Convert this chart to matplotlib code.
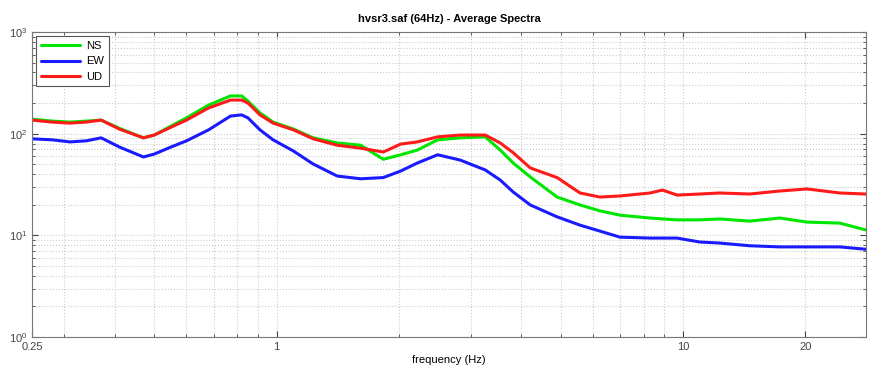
import numpy as np
import matplotlib
matplotlib.use('Agg')
import matplotlib.pyplot as plt
from matplotlib.ticker import FixedLocator, FixedFormatter, LogLocator

plt.rcParams['font.family'] = ['Liberation Sans', 'DejaVu Sans']

# frequency grid (Hz) and average spectra
freq = [0.25, 0.28, 0.31, 0.34, 0.37, 0.41, 0.47, 0.50, 0.55, 0.60,
        0.68, 0.77, 0.82, 0.85, 0.91, 0.98, 1.10, 1.23, 1.41, 1.61,
        1.83, 2.02, 2.22, 2.49, 2.83, 3.26, 3.55, 3.82, 4.21, 4.90,
        5.58, 6.25, 7.00, 8.30, 8.9, 9.67, 11.0, 12.3, 14.6, 17.3,
        20.2, 24.3, 28.2]
ns = [139, 133, 130, 133, 136, 113, 91, 97, 119, 143,
      191, 235, 235, 209, 160, 130, 111, 91, 81, 77,
      56, 62, 69, 87, 91, 93, 69, 51.5, 37.5, 23.8,
      19.9, 17.4, 15.8, 14.8, 14.5, 14.2, 14.2, 14.5, 13.8, 14.8,
      13.5, 13.2, 11.3]
ew = [89, 87, 83, 85, 91, 74, 59, 63, 74, 85,
      109, 149, 153, 143, 109, 87, 67.5, 50.3, 38.3, 36,
      37, 42.9, 51.5, 62, 55, 44, 35, 26.7, 19.9, 15.2,
      12.6, 11.0, 9.6, 9.4, 9.4, 9.4, 8.6, 8.4, 7.9, 7.7,
      7.7, 7.7, 7.3]
ud = [136, 130, 127, 130, 136, 111, 91, 97, 116, 136,
      179, 214, 214, 200, 153, 127, 109, 89, 77, 72,
      66, 79, 83, 93, 97, 97, 81, 65, 46, 37,
      26.1, 23.8, 24.4, 26.1, 27.9, 24.9, 25.5, 26.1, 25.5, 27.3,
      28.6, 26.1, 25.5]

fig = plt.figure(figsize=(8.69, 3.72), dpi=100)
ax = fig.add_axes([0.0368, 0.094, 0.9597, 0.820])

style = dict(lw=2.2, solid_joinstyle='round', solid_capstyle='round')
ax.plot(freq, ns, color='#00e600', label='NS', **style)
ax.plot(freq, ew, color='#1a1aff', label='EW', **style)
ax.plot(freq, ud, color='#ff1a1a', label='UD', **style)

ax.set_xscale('log')
ax.set_yscale('log')
ax.set_xlim(0.25, 28.2)
ax.set_ylim(1, 1000)

ax.xaxis.set_major_locator(FixedLocator([0.25, 1, 10, 20]))
ax.xaxis.set_major_formatter(FixedFormatter(['0.25', '1', '10', '20']))
ax.xaxis.set_minor_locator(LogLocator(base=10, subs=np.arange(2, 10)))
ax.xaxis.set_minor_formatter(FixedFormatter([]))
ax.yaxis.set_major_locator(LogLocator(base=10, numticks=10))
ax.yaxis.set_minor_locator(LogLocator(base=10, subs=np.arange(2, 10), numticks=20))

ax.grid(True, which='both', color='#cccccc', ls=':', lw=0.8)
ax.tick_params(which='both', direction='in', colors='#444444', labelsize=8,
               top=True, right=True)
ax.tick_params(which='major', length=4)
ax.tick_params(which='minor', length=2)
for s in ax.spines.values():
    s.set_color('#777777')

ax.set_title('hvsr3.saf (64Hz) - Average Spectra', fontsize=8, fontweight='bold', pad=7)
ax.set_xlabel('frequency (Hz)', fontsize=8, labelpad=2)

leg = ax.legend(loc='upper left', fontsize=8, fancybox=False, edgecolor='#555555',
                framealpha=1, handlelength=3.5, handletextpad=0.6, borderaxespad=0.4)
leg.get_frame().set_linewidth(0.8)

fig.savefig('out.png', dpi=100)
